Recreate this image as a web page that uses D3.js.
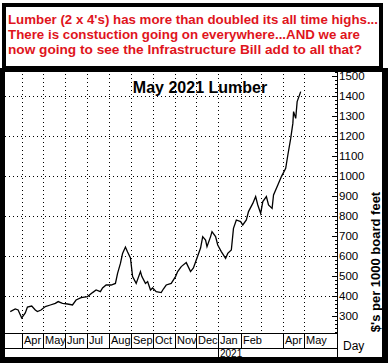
<!DOCTYPE html>
<html>
<head>
<meta charset="utf-8">
<script src="https://cdn.jsdelivr.net/npm/d3@7"></script>
<style>
  body { margin: 0; background: #fff; }
  svg { display: block; font-family: Arial, "Liberation Sans", sans-serif; }
</style>
</head>
<body>
<svg id="chart" width="388" height="363"></svg>
<script>
// banner text
const bannerLines = [
    "Lumber (2 x 4's) has more than doubled its all time highs...",
    "There is constuction going on everywhere...AND we are",
    "now going to see the Infrastructure Bill add to all that?"
];
const title = "May 2021 Lumber";

// lumber, $ per 1000 board feet
const dates = [
    "2020-03-16","2020-03-23","2020-03-27","2020-04-01","2020-04-06","2020-04-09","2020-04-15",
    "2020-04-20","2020-04-23","2020-04-28","2020-05-04","2020-05-11","2020-05-18","2020-05-22",
    "2020-05-28","2020-06-04","2020-06-11","2020-06-16","2020-06-23","2020-07-02","2020-07-09",
    "2020-07-14","2020-07-20","2020-07-23","2020-07-28","2020-08-04","2020-08-10","2020-08-13",
    "2020-08-17","2020-08-20","2020-08-24","2020-08-27","2020-08-31","2020-09-03","2020-09-08",
    "2020-09-14","2020-09-16","2020-09-21","2020-09-24","2020-09-28","2020-10-01","2020-10-06",
    "2020-10-13","2020-10-16","2020-10-20","2020-10-27","2020-11-02","2020-11-05","2020-11-10",
    "2020-11-17","2020-11-23","2020-11-27","2020-12-01","2020-12-07","2020-12-10","2020-12-14",
    "2020-12-16","2020-12-21","2020-12-23","2020-12-28","2020-12-31","2021-01-05","2021-01-11",
    "2021-01-14","2021-01-19","2021-01-22","2021-01-26","2021-02-01","2021-02-04","2021-02-09",
    "2021-02-12","2021-02-18","2021-02-22","2021-02-25","2021-03-01","2021-03-04","2021-03-09",
    "2021-03-12","2021-03-17","2021-03-19","2021-03-25","2021-03-30","2021-04-05","2021-04-08",
    "2021-04-12","2021-04-15","2021-04-16","2021-04-19","2021-04-21","2021-04-26"
];
const prices = [
    322, 335, 330, 290, 315, 345, 350,
    330, 322, 330, 347, 355, 363, 372,
    363, 360, 355, 380, 392, 397, 417,
    430, 422, 440, 455, 455, 463, 513,
    563, 613, 645, 620, 590, 497, 463,
    522, 497, 463, 472, 430, 440, 422,
    417, 435, 455, 463, 497, 522, 547,
    567, 522, 540, 580, 640, 697, 680,
    647, 697, 722, 697, 655, 622, 588,
    613, 630, 738, 780, 772, 755, 780,
    822, 863, 897, 855, 813, 872, 897,
    855, 838, 905, 955, 997, 1038, 1105,
    1188, 1263, 1322, 1288, 1372, 1422
];

// month cells along the bottom (March 2021 has no label in the original)
const monthStarts = ["2020-04-01","2020-05-01","2020-06-01","2020-07-01","2020-08-01","2020-09-01",
    "2020-10-01","2020-11-01","2020-12-01","2021-01-01","2021-02-01","2021-03-01","2021-04-01","2021-05-01"];
const monthLabels = ["Apr","May","Jun","Jul","Aug","Sep","Oct","Nov","Dec","Jan","Feb","","Apr","May"];
const yearStarts = ["2021-01-01"];
const yearLabels = ["2021"];

const gridValues = [400, 600, 800, 1000, 1200, 1400];
const tickValues = [300, 400, 500, 600, 700, 800, 900, 1000, 1100, 1200, 1300, 1400, 1500];

const parse = d3.timeParse("%Y-%m-%d");
const data = dates.map((d, i) => ({date: parse(d), price: prices[i]}));

const W = 388, H = 363;
const plotL = 5, plotR = 337, plotT = 70, plotB = 333;
const row1 = 348, row2 = 356;

const svg = d3.select("#chart");
svg.append("rect").attr("width", W).attr("height", H).attr("fill", "#fff");

const x = d3.scaleTime()
    .domain([parse("2020-04-01"), parse("2021-05-01")])
    .range([21.7, 304.3]);
const y = d3.scaleLinear().domain([215, 1530]).range([plotB, plotT]);

// dotted grid
const grid = svg.append("g").attr("stroke", "#000").attr("stroke-width", 1)
    .attr("stroke-dasharray", "1,3").attr("shape-rendering", "crispEdges");
grid.selectAll("line.h").data(gridValues).enter().append("line")
    .attr("x1", plotL).attr("x2", plotR)
    .attr("y1", d => Math.round(y(d)) + 0.5).attr("y2", d => Math.round(y(d)) + 0.5);
grid.selectAll("line.v").data(monthStarts).enter().append("line")
    .attr("x1", d => Math.round(x(parse(d))) + 0.5).attr("x2", d => Math.round(x(parse(d))) + 0.5)
    .attr("y1", plotT).attr("y2", plotB);

// price line
const line = d3.line().x(d => x(d.date)).y(d => y(d.price));
svg.append("path").datum(data)
    .attr("fill", "none").attr("stroke", "#000").attr("stroke-width", 1.3)
    .attr("d", line);

// right axis
const axisG = svg.append("g").attr("transform", `translate(${plotR},0)`);
axisG.append("g")
    .call(d3.axisRight(y).tickValues(d3.range(220, 1530, 20)).tickSize(-2).tickSizeOuter(0).tickFormat(""));
axisG.append("g")
    .call(d3.axisRight(y).tickValues(tickValues).tickSize(-5).tickSizeOuter(0)
        .tickPadding(2).tickFormat(d3.format("d")));
axisG.selectAll(".domain").remove();
axisG.selectAll("line").attr("stroke", "#000");
axisG.selectAll("text").attr("font-size", 11.5).attr("fill", "#000")
    .attr("font-family", "Arial, 'Liberation Sans', sans-serif");

svg.append("line").attr("x1", plotR + 0.5).attr("x2", plotR + 0.5)
    .attr("y1", plotT).attr("y2", H).attr("stroke", "#000");

svg.append("text")
    .attr("transform", `translate(380,262) rotate(-90)`)
    .attr("text-anchor", "middle").attr("font-size", 13).attr("font-weight", "bold")
    .text("$'s per 1000 board feet");

// month / year rows
const rows = svg.append("g").attr("stroke", "#000").attr("shape-rendering", "crispEdges");
rows.append("line").attr("x1", 0).attr("x2", plotR).attr("y1", plotB + 0.5).attr("y2", plotB + 0.5);
rows.append("line").attr("x1", 0).attr("x2", plotR).attr("y1", row1 + 0.5).attr("y2", row1 + 0.5);
rows.selectAll("line.m").data(monthStarts.filter((d, i) => monthLabels[i] !== "")).enter().append("line")
    .attr("x1", d => Math.round(x(parse(d))) + 0.5).attr("x2", d => Math.round(x(parse(d))) + 0.5)
    .attr("y1", plotB).attr("y2", row1);
rows.selectAll("line.y").data(yearStarts).enter().append("line")
    .attr("x1", d => Math.round(x(parse(d))) + 0.5).attr("x2", d => Math.round(x(parse(d))) + 0.5)
    .attr("y1", row1).attr("y2", row2 + 1);

svg.append("g").selectAll("text").data(monthStarts).enter().append("text")
    .attr("x", d => Math.round(x(parse(d))) + 2).attr("y", row1 - 4)
    .attr("font-size", 11).text((d, i) => monthLabels[i]);
svg.append("g").selectAll("text").data(yearStarts).enter().append("text")
    .attr("x", d => Math.round(x(parse(d))) + 2).attr("y", row2 + 0.5)
    .attr("font-size", 10).text((d, i) => yearLabels[i]);
svg.append("text").attr("x", 343).attr("y", 350).attr("font-size", 12).text("Day");

// title
svg.append("text").attr("x", 200).attr("y", 93).attr("text-anchor", "middle")
    .attr("font-size", 16).attr("font-weight", "bold").text(title);

// frame
const frame = svg.append("g").attr("fill", "#000");
frame.append("rect").attr("x", 0).attr("y", 68).attr("width", 5).attr("height", H - 68);
frame.append("rect").attr("x", 382).attr("y", 68).attr("width", 6).attr("height", H - 68);
frame.append("rect").attr("x", 0).attr("y", 68).attr("width", W).attr("height", 4);
frame.append("rect").attr("x", 0).attr("y", row2 + 1).attr("width", W).attr("height", H - row2 - 1);

// banner
svg.append("rect").attr("x", 4).attr("y", 5).attr("width", 377).attr("height", 63)
    .attr("fill", "#fff").attr("stroke", "#000").attr("stroke-width", 4);
const lineEnds = [378, 360, 362];
svg.append("g").selectAll("text").data(bannerLines).enter().append("text")
    .attr("x", 8).attr("y", (d, i) => 24 + i * 15)
    .attr("font-size", 13).attr("font-weight", "bold").attr("fill", "#e0141c")
    .attr("textLength", (d, i) => lineEnds[i] - 8).attr("lengthAdjust", "spacingAndGlyphs")
    .text(d => d);
</script>
</body>
</html>
